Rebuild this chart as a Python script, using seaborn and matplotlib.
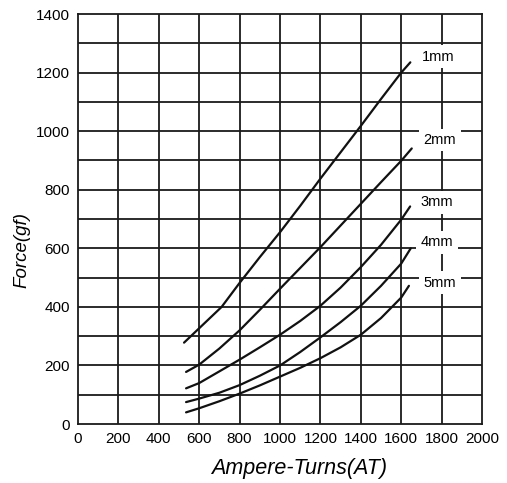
import pandas as pd
import matplotlib
matplotlib.use("Agg")
import matplotlib.pyplot as plt
import seaborn as sns

# Force vs ampere-turns, one curve per air gap
x_1mm = [525, 711, 800, 900, 1000, 1100, 1200, 1300, 1400, 1500, 1600, 1645]
y_1mm = [278, 400, 482, 570, 655, 745, 838, 928, 1018, 1110, 1200, 1235]

x_2mm = [535, 600, 700, 800, 900, 1000, 1100, 1200, 1300, 1400, 1500, 1600, 1652]
y_2mm = [178, 203, 258, 320, 390, 462, 533, 604, 678, 752, 826, 899, 941]

x_3mm = [535, 600, 700, 800, 900, 1000, 1100, 1200, 1300, 1400, 1500, 1600, 1644]
y_3mm = [122, 140, 180, 220, 262, 305, 352, 404, 466, 536, 612, 698, 743]

x_4mm = [535, 600, 700, 800, 900, 1000, 1100, 1200, 1300, 1400, 1500, 1600, 1647]
y_4mm = [75, 87, 107, 133, 165, 200, 246, 296, 348, 404, 472, 548, 600]

x_5mm = [535, 600, 700, 800, 900, 1000, 1100, 1200, 1300, 1400, 1500, 1600, 1638]
y_5mm = [40, 54, 78, 104, 132, 162, 192, 225, 262, 305, 362, 432, 472]

gap_labels = ["1mm", "2mm", "3mm", "4mm", "5mm"]
label_x = [1782, 1792, 1777, 1777, 1792]
label_y = [1254, 970, 757, 620, 483]

x_ticks = list(range(0, 2001, 200))
y_ticks = list(range(0, 1401, 200))


def build_frame():
    parts = []
    for name, xs, ys in zip(gap_labels,
                            [x_1mm, x_2mm, x_3mm, x_4mm, x_5mm],
                            [y_1mm, y_2mm, y_3mm, y_4mm, y_5mm]):
        parts.append(pd.DataFrame({"at": xs, "force": ys, "gap": name}))
    return pd.concat(parts, ignore_index=True)


def plot_chart(df):
    sns.set_style("white")
    plt.rcParams["font.family"] = ["Liberation Sans", "DejaVu Sans"]
    plt.rcParams["text.color"] = "black"
    plt.rcParams["axes.labelcolor"] = "black"
    plt.rcParams["xtick.color"] = "black"
    plt.rcParams["ytick.color"] = "black"

    fig = plt.figure(figsize=(5.07, 4.83), dpi=100)
    ax = fig.add_axes([0.1538, 0.122, 0.797, 0.849])

    # grid: every 200 AT, every 100 gf
    for gx in range(200, 2000, 200):
        ax.axvline(gx, color="#1a1a1a", lw=1.3, zorder=1)
    for gy in range(100, 1400, 100):
        ax.axhline(gy, color="#1a1a1a", lw=1.3, zorder=1)

    for name in gap_labels:
        sub = df[df["gap"] == name]
        sns.lineplot(data=sub, x="at", y="force", ax=ax, color="#111111",
                     lw=1.6, sort=False, estimator=None, zorder=3)

    for txt, tx, ty in zip(gap_labels, label_x, label_y):
        ax.text(tx, ty, txt, ha="center", va="center", fontsize=10.5, zorder=4,
                bbox=dict(boxstyle="square,pad=0.3", fc="white", ec="none"))

    ax.set_xlim(0, 2000)
    ax.set_ylim(0, 1400)
    ax.set_xticks(x_ticks)
    ax.set_yticks(y_ticks)
    ax.tick_params(axis="both", labelsize=11, length=3, width=1,
                   direction="out", color="#1a1a1a", pad=3)
    for sp in ax.spines.values():
        sp.set_color("#1a1a1a")
        sp.set_linewidth(1.3)

    ax.set_xlabel("Ampere-Turns(AT)", fontsize=15.5, style="italic")
    ax.set_ylabel("Force(gf)", fontsize=13.5, style="italic")
    ax.xaxis.set_label_coords(0.547, -0.082)
    ax.yaxis.set_label_coords(-0.118, 0.424)

    fig.savefig("out.png", dpi=100)


if __name__ == "__main__":
    plot_chart(build_frame())
